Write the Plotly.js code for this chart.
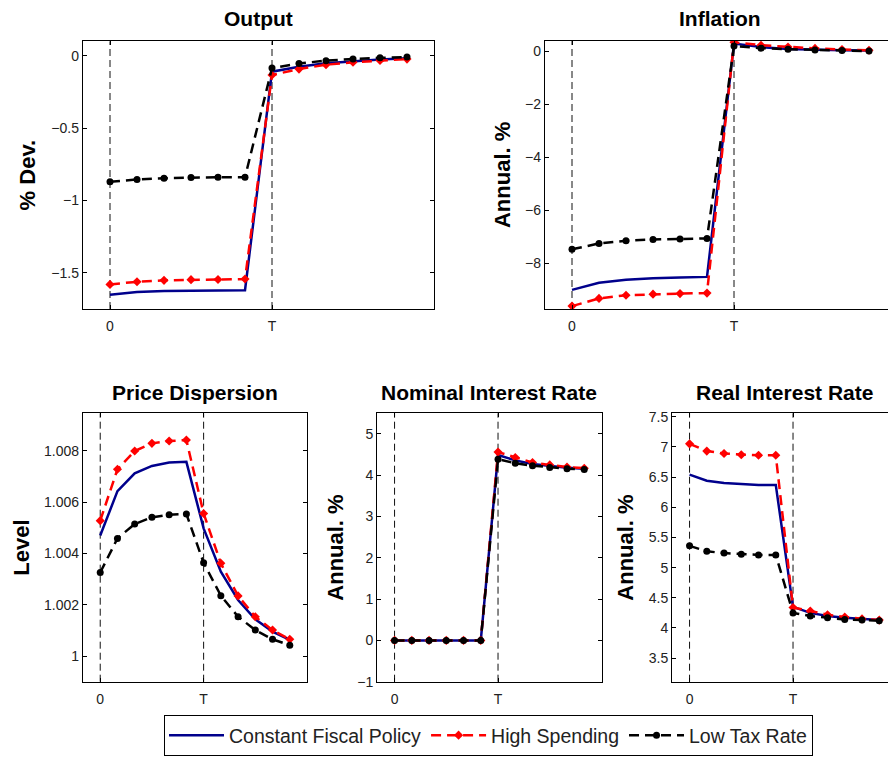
<!DOCTYPE html>
<html><head><meta charset="utf-8">
<script src="https://cdn.plot.ly/plotly-3.0.1.min.js"></script>
<style>html,body{margin:0;padding:0;overflow:hidden;background:#fff;width:888px;height:757px}
#wrap{width:888px;height:757px;overflow:hidden;position:relative}#chart{width:900px;height:757px}</style>
</head><body><div id="wrap"><div id="chart"></div></div><script>
// ---- data ----
const periods = [0,1,2,3,4,5,6,7,8,9,10,11];
const xTickVals = [0,6];
const xTickText = ['0','T'];
const seriesNames = ['Constant Fiscal Policy','High Spending','Low Tax Rate'];
const panelTitles = ['Output','Inflation','Price Dispersion','Nominal Interest Rate','Real Interest Rate'];
const yTitles = ['% Dev.','Annual. %','Level','Annual. %','Annual. %'];

const outputConst = [-1.652,-1.633,-1.625,-1.622,-1.621,-1.620,-0.110,-0.076,-0.052,-0.036,-0.025,-0.018];
const outputHigh  = [-1.580,-1.562,-1.552,-1.547,-1.546,-1.543,-0.133,-0.092,-0.062,-0.045,-0.032,-0.023];
const outputLow   = [-0.871,-0.855,-0.846,-0.842,-0.840,-0.840,-0.085,-0.053,-0.034,-0.022,-0.014,-0.008];

const inflConst = [-9.00,-8.73,-8.62,-8.56,-8.53,-8.51,0.28,0.15,0.08,0.05,0.03,0.02];
const inflHigh  = [-9.61,-9.32,-9.20,-9.16,-9.14,-9.12,0.33,0.22,0.15,0.10,0.06,0.03];
const inflLow   = [-7.47,-7.25,-7.15,-7.10,-7.08,-7.06,0.19,0.11,0.07,0.04,0.02,0.00];

const pdConst = [1.00470,1.00643,1.00712,1.00741,1.00754,1.00757,1.00498,1.00329,1.00219,1.00144,1.00096,1.00064];
const pdHigh  = [1.00528,1.00728,1.00799,1.00829,1.00838,1.00842,1.00556,1.00362,1.00235,1.00154,1.00102,1.00066];
const pdLow   = [1.00326,1.00459,1.00515,1.00541,1.00551,1.00554,1.00364,1.00236,1.00154,1.00102,1.00066,1.00043];
const pdTickVals = [1,1.002,1.004,1.006,1.008];
const pdTickText = ['1','1.002','1.004','1.006','1.008'];

const nomConst = [0,0,0,0,0,0,4.49,4.36,4.27,4.22,4.18,4.16];
const nomHigh  = [0,0,0,0,0,0,4.56,4.43,4.31,4.25,4.20,4.17];
const nomLow   = [0,0,0,0,0,0,4.39,4.29,4.23,4.19,4.16,4.14];

const realConst = [6.54,6.44,6.40,6.38,6.37,6.37,4.35,4.25,4.20,4.17,4.15,4.13];
const realHigh  = [7.05,6.93,6.89,6.87,6.86,6.86,4.34,4.28,4.22,4.18,4.15,4.13];
const realLow   = [5.36,5.27,5.24,5.22,5.21,5.21,4.25,4.20,4.17,4.14,4.13,4.12];

// ---- layout ----
const W = 900, H = 757;
const FONT = 'Liberation Sans, Arial, sans-serif';
const px = (a,b) => [a/W, b/W];
const py = (top,bot) => [1-bot/H, 1-top/H];

const panels = [
  {series:[outputConst,outputHigh,outputLow], xd:px(83,434), yd:py(41.3,309), yr:[-1.75,0.1], dtick:0.5, stand:9},
  {series:[inflConst,inflHigh,inflLow], xd:px(545,896), yd:py(40.7,309), yr:[-9.72,0.39], dtick:2, stand:8},
  {series:[pdConst,pdHigh,pdLow], xd:px(83,307), yd:py(413.3,681.7), yr:[0.99901,1.00946], tickvals:pdTickVals, ticktext:pdTickText, stand:8},
  {series:[nomConst,nomHigh,nomLow], xd:px(377.3,601.5), yd:py(413.3,681.7), yr:[-1,5.5], dtick:1, stand:7},
  {series:[realConst,realHigh,realLow], xd:px(672.3,896.5), yd:py(413.3,681.7), yr:[3.11,7.556], dtick:0.5, stand:9}
];

const styles = [
  {line:{color:'rgb(0,0,140)', width:2.5}, mode:'lines'},
  {line:{color:'rgb(255,0,0)', width:2.5, dash:'10px,6px'}, mode:'lines+markers', marker:{symbol:'diamond', size:7, color:'rgb(255,0,0)'}},
  {line:{color:'#000', width:2.5, dash:'10px,6px'}, mode:'lines+markers', marker:{symbol:'circle', size:7, color:'#000'}}
];

const traces = [];
const layout = {
  width: W, height: H, margin:{l:0,r:0,t:0,b:0},
  paper_bgcolor:'#fff', plot_bgcolor:'#fff',
  font:{family:FONT, color:'#222', size:14},
  showlegend:true,
  legend:{orientation:'h', x:164/W, xanchor:'left', y:1-756/H, yanchor:'bottom',
    bordercolor:'#000', borderwidth:1, bgcolor:'#fff', font:{family:FONT, size:19.5, color:'#222'},
    itemwidth:55, tracegroupgap:0},
  annotations:[], shapes:[]
};

const titleY = [19,19,392.5,392.5,392.5];
panels.forEach((p,i) => {
  const n = i+1;
  const xa = 'x'+(n===1?'':n), ya = 'y'+(n===1?'':n);
  p.series.forEach((vals,k) => {
    traces.push(Object.assign({type:'scatter', x:periods, y:vals, name:seriesNames[k],
      xaxis:xa, yaxis:ya, showlegend:i===0, legendgroup:'g'+k}, JSON.parse(JSON.stringify(styles[k]))));
  });
  const axBase = {ticks:'inside', ticklen:4, tickwidth:1, tickcolor:'#000', showline:true, linecolor:'#000', linewidth:1.2,
    mirror:'allticks', showgrid:false, zeroline:false, tickfont:{family:FONT,size:14,color:'#222'}, fixedrange:true};
  layout['xaxis'+(n===1?'':n)] = Object.assign({}, axBase, {domain:p.xd, anchor:ya, range:[-1,12],
    tickmode:'array', tickvals:xTickVals, ticktext:xTickText, ticklabelstandoff:4});
  const yax = Object.assign({}, axBase, {domain:p.yd, anchor:xa, range:p.yr, ticklabelstandoff:0,
    title:{text:yTitles[i], font:{family:FONT, size:22, weight:'bold', color:'#000'}, standoff:p.stand}});
  if (p.tickvals) { yax.tickmode='array'; yax.tickvals=p.tickvals; yax.ticktext=p.ticktext; }
  else { yax.tick0=0; yax.dtick=p.dtick; }
  layout['yaxis'+(n===1?'':n)] = yax;
  layout.annotations.push({text:panelTitles[i], xref:'paper', yref:'paper', x:(p.xd[0]+p.xd[1])/2, y:1-titleY[i]/H,
    xanchor:'center', yanchor:'middle', showarrow:false, font:{family:FONT, size:21, weight:'bold', color:'#000'}});
  xTickVals.forEach(v => layout.shapes.push({type:'line', xref:xa, yref:ya+' domain', x0:v, x1:v, y0:0, y1:1,
    line:{color:'#111', width:1, dash:'7px,4px'}, layer:'below'}));
});

Plotly.newPlot('chart', traces, layout, {staticPlot:true, displayModeBar:false});
</script></body></html>
